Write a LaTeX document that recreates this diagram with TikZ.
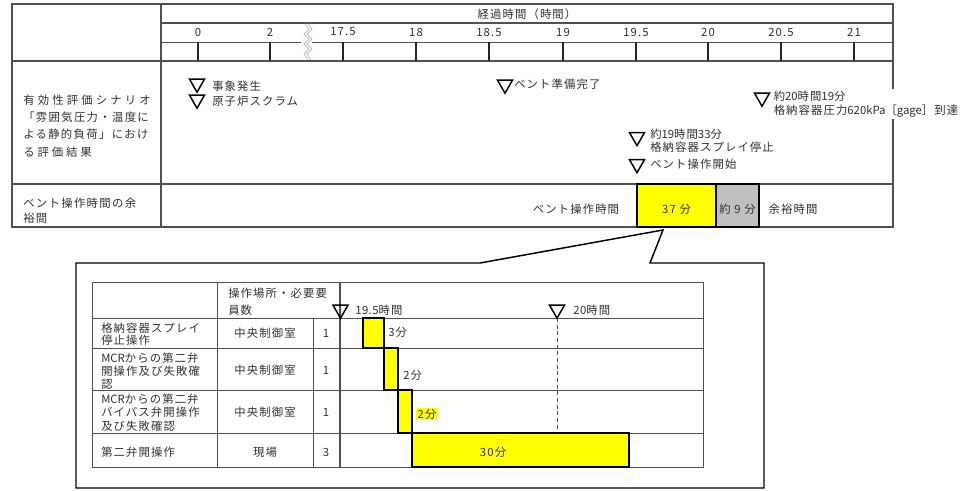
\documentclass[tikz,border=0pt]{standalone}
\usepackage{fontspec}
\setmainfont{Noto Sans CJK JP}[LetterSpace=10]
\usetikzlibrary{shapes.geometric}
\definecolor{ln}{HTML}{505050}
\definecolor{tx}{HTML}{303030}
\definecolor{ylw}{HTML}{FFFF00}
\definecolor{gbox}{HTML}{C0C0C0}
\newcommand{\lsp}[2]{{\addfontfeature{LetterSpace=#1}#2}}
\begin{document}
\begin{tikzpicture}[x=0.75pt,y=-0.75pt,
  thin/.style={draw=ln,line width=0.75pt},
  thick/.style={draw=ln,line width=1.4pt},
  txt/.style={font=\fontsize{8.5}{10.5}\selectfont,text=tx,inner sep=0pt,align=left},
  tri/.style={draw=black,line width=1.1pt,regular polygon,regular polygon sides=3,
              shape border rotate=180,minimum size=13pt,inner sep=0pt},
  bar/.style={fill=ylw,draw=black,line width=0.9pt}]
\useasboundingbox (0,0) rectangle (967,490);

% ---------------- top table ----------------
\draw[thin,line width=1.1pt] (12,4) rectangle (893,227);
\draw[thick] (161,4) -- (161,227);
\draw[thick] (161,23) -- (893,23);
\draw[thin] (161,42) -- (301,42);
\draw[thin] (312,42) -- (893,42);
\draw[thin,line width=1.1pt] (12,61) -- (893,61);
\draw[thin,line width=1.1pt] (12,184) -- (893,184);
\foreach \x in {198,270,343,416,489,563,636,708,781,854}
  \draw[draw=black!85,line width=0.9pt] (\x,42) -- (\x,61);
% break mark
\draw[gray!55,line width=0.6pt] (305,24) -- (309,29) -- (304,34) -- (309,39) -- (304,44) -- (309,49) -- (304,54) -- (308,60);
\draw[gray!55,line width=0.6pt] (308,24) -- (312,29) -- (307,34) -- (312,39) -- (307,44) -- (312,49) -- (307,54) -- (311,60);

\node[txt] (hdr) at (527,14) {経過時間（時間）};
\foreach \x/\t [count=\i] in {198/0,270/2,343/17.5,416/18,489/18.5,563/19,636/19.5,708/20,781/20.5,854/21}
  \node[txt] (tk\i) at (\x,32) {\t};

\node[txt,anchor=west,font=\fontsize{8.5}{12.9}\selectfont] (scen) at (23,126)
  {\lsp{28}{有効性評価シナリオ}\\\lsp{12}{「雰囲気圧力・温度に}\\\lsp{12}{よる静的負荷」におけ}\\\lsp{26}{る評価結果}};
\node[txt,anchor=west,font=\fontsize{8.5}{11.2}\selectfont] (marg) at (23,210.5) {\lsp{12}{ベント操作時間の余}\\\lsp{12}{裕間}};

% markers
\node[tri] (t1) at (197,83.5) {};
\node[txt,anchor=west] (l1) at (212,86) {事象発生};
\node[tri] (t2) at (197,99.5) {};
\node[txt,anchor=west] (l2) at (212,101) {原子炉スクラム};
\node[tri] (t3) at (505,84.5) {};
\node[txt,anchor=west] (l3) at (514,84) {ベント準備完了};
\node[txt,anchor=west,fill=white,inner sep=1.5pt,font=\fontsize{8.5}{10.5}\selectfont] (l4) at (771.5,104)
  {約\lsp{0}{20}時間\lsp{0}{19}分\\格納容器圧力\lsp{0}{620kPa}［\lsp{0}{gage}］到達};
\node[tri] (t4) at (762,97.5) {};
\node[tri] (t5) at (637,137) {};
\node[txt,anchor=west,font=\fontsize{8.5}{9.8}\selectfont] (l5) at (650,140.5) {約\lsp{0}{19}時間\lsp{0}{33}分\\格納容器スプレイ停止};
\node[tri] (t6) at (637,164) {};
\node[txt,anchor=west] (l6) at (650,164) {ベント操作開始};

% margin row
\draw[bar,line width=1pt] (637,184) rectangle (716,227);
\draw[fill=gbox,draw=black,line width=1pt] (716,184) rectangle (759,227);
\node[txt] (vt) at (576,209) {ベント操作時間};
\node[txt] (m37) at (676.5,209) {37 分};
\node[txt] (m9) at (737.5,209) {約 9 分};
\node[txt] (yt) at (793,209) {余裕時間};

% ---------------- callout ----------------
\coordinate (tip) at (663,230);
\draw[black,line width=1.1pt,line join=miter] (480,263) -- (tip) -- (650,263) -- (764,263) -- (764,488) -- (76,488) -- (76,263) -- cycle;

% ---------------- inset table ----------------
\draw[thin] (92,282) rectangle (703,467);
\foreach \y in {318,348,390,433} \draw[thin] (92,\y) -- (703,\y);
\draw[thin] (217,282) -- (217,467);
\draw[thin] (313,318) -- (313,467);
\draw[thin,line width=1pt] (340,282) -- (340,467);
\draw[ln,line width=0.6pt,dash pattern=on 3pt off 2pt] (557,318) -- (557,430);

\draw[bar] (363,318) rectangle (384,348);
\draw[bar] (384,348) rectangle (398,390);
\draw[bar] (398,390) rectangle (412,433);
\draw[bar] (412,433) rectangle (629,467);

\node[tri] (t7) at (340.5,309.5) {};
\node[tri] (t8) at (557,309.5) {};
\node[txt,anchor=west] (h195) at (355,310) {\lsp{4}{19.5}時間};
\node[txt,anchor=west] (h20) at (573,310) {\lsp{4}{20}時間};
\node[txt,anchor=west,font=\fontsize{8.5}{12.7}\selectfont] (hloc) at (228,301.5) {操作場所・必要要\\員数};

\node[txt,anchor=west,font=\fontsize{8.5}{9.4}\selectfont] (r1) at (101,334) {格納容器スプレイ\\停止操作};
\node[txt,anchor=west,font=\fontsize{8.5}{10}\selectfont] (r2) at (101,371) {\lsp{0}{MCR}からの第二弁\\開操作及び失敗確\\認};
\node[txt,anchor=west,font=\fontsize{8.5}{10}\selectfont] (r3) at (101,412.5) {\lsp{0}{MCR}からの第二弁\\バイパス弁開操作\\及び失敗確認};
\node[txt,anchor=west] (r4) at (101,452) {第二弁開操作};

\node[txt] (c1) at (265,333) {中央制御室};
\node[txt] (c2) at (265,370) {中央制御室};
\node[txt] (c3) at (265,412) {中央制御室};
\node[txt] (c4) at (265,452) {現場};
\node[txt] (n1) at (326,333) {1};
\node[txt] (n2) at (326,370) {1};
\node[txt] (n3) at (326,412) {1};
\node[txt] (n4) at (326,452) {3};

\node[txt,anchor=west] (d1) at (388,332) {3分};
\node[txt,anchor=west] (d2) at (403,375) {2分};
\node[txt,anchor=west,fill=ylw,inner sep=1pt] (d3) at (416,414) {2分};
\node[txt] (d4) at (493,452) {30分};
\end{tikzpicture}
\end{document}
